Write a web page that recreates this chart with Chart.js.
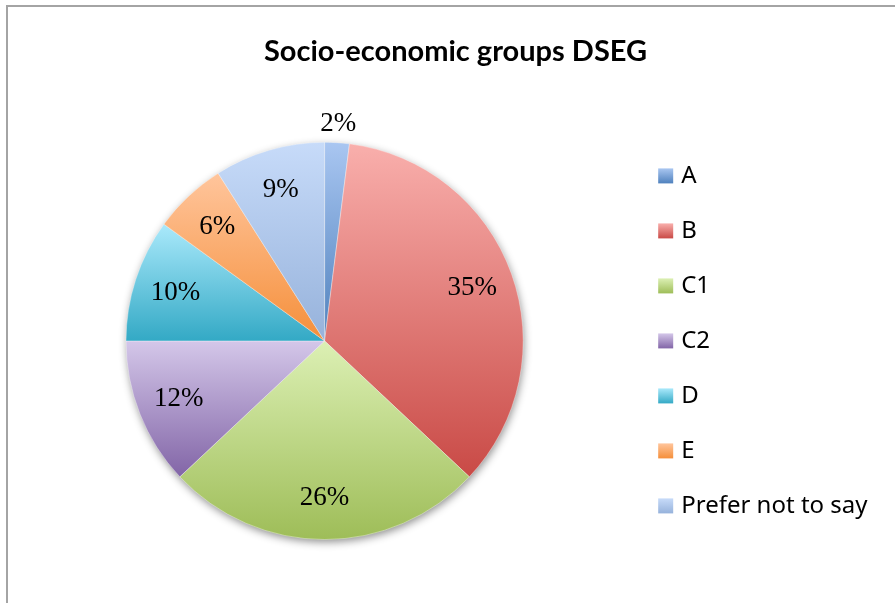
<!DOCTYPE html>
<html>
<head>
<meta charset="utf-8">
<script src="https://cdn.jsdelivr.net/npm/chart.js@4"></script>
<style>
  html, body { margin: 0; padding: 0; background: #fff; }
  #wrap { position: relative; width: 895px; height: 603px; overflow: hidden; }
  #frame { position: absolute; left: 6px; top: 5px; width: 2000px; height: 2000px;
           border-left: 2px solid #a4a4a4; border-top: 2px solid #a4a4a4; }
  canvas { position: absolute; left: 0; top: 0; }
</style>
</head>
<body>
<div id="wrap">
  <div id="frame"></div>
  <canvas id="c" width="895" height="603"></canvas>
</div>
<script>
// Socio-economic group shares (percent)
const categories = ['A', 'B', 'C1', 'C2', 'D', 'E', 'Prefer not to say'];
const shares = [2, 35, 26, 12, 10, 6, 9];

// Vertical gradient stops per slice: light top, deeper bottom
const lightColors = ['#a9c6f1', '#f9afac', '#dcf0b4', '#d4c7e9', '#aae9fb', '#ffc59c', '#c7dbf9'];
const deepColors  = ['#4f81bd', '#c94a46', '#9ebd58', '#8265a7', '#33a9c5', '#f58f3a', '#96b2db'];
const midColors   = ['#7ea3d8', '#e27d7a', '#bed886', '#ab96c8', '#6fcae0', '#fbaa6b', '#afc7ea'];

// legend geometry: reserved swatch slot width and label font size
const LEGEND_SLOT = 45.5;
const LEGEND_FONT = 24;

function vGradient(ctx, y0, y1, i) {
  const g = ctx.createLinearGradient(0, y0, 0, y1);
  g.addColorStop(0, lightColors[i]);
  g.addColorStop(1, deepColors[i]);
  return g;
}

// y-extent of a pie slice (canvas angles, clockwise from +x)
function sliceYRange(el) {
  const {y, startAngle, endAngle, outerRadius} = el.getProps(['y', 'startAngle', 'endAngle', 'outerRadius'], true);
  const ys = [y, y + outerRadius * Math.sin(startAngle), y + outerRadius * Math.sin(endAngle)];
  for (const a of [-Math.PI / 2, Math.PI / 2, 1.5 * Math.PI, 2.5 * Math.PI]) {
    if (a > startAngle && a < endAngle) ys.push(y + outerRadius * Math.sin(a));
  }
  return [Math.min(...ys), Math.max(...ys)];
}

const slicePaint = {
  id: 'slicePaint',
  beforeDatasetsDraw(chart) {
    const ctx = chart.ctx;
    const meta = chart.getDatasetMeta(0);
    const first = meta.data[0];
    if (!first) return;
    // soft drop shadow under the whole pie
    ctx.save();
    ctx.shadowColor = 'rgba(0,0,0,0.45)';
    ctx.shadowBlur = 9;
    ctx.shadowOffsetX = 1;
    ctx.shadowOffsetY = 3;
    ctx.fillStyle = '#cccccc';
    ctx.beginPath();
    ctx.arc(first.x, first.y, first.outerRadius - 0.5, 0, Math.PI * 2);
    ctx.fill();
    ctx.restore();
    meta.data.forEach((el, i) => {
      const [y0, y1] = sliceYRange(el);
      el.options.backgroundColor = vGradient(ctx, y0, y1, i);
    });
  },
  afterDatasetsDraw(chart) {
    const ctx = chart.ctx;
    const meta = chart.getDatasetMeta(0);
    ctx.save();
    ctx.font = '27px "Liberation Serif", serif';
    ctx.fillStyle = '#000';
    ctx.textAlign = 'center';
    ctx.textBaseline = 'middle';
    meta.data.forEach((el, i) => {
      const v = chart.data.datasets[0].data[i];
      const mid = (el.startAngle + el.endAngle) / 2;
      const r = v < 5 ? el.outerRadius + 19 : el.outerRadius * 0.79;
      ctx.fillText(v + '%', el.x + r * Math.cos(mid), el.y + r * Math.sin(mid));
    });
    ctx.restore();
  },
  afterDraw(chart) {
    // gradient legend swatches, sitting just left of each label
    const legend = chart.legend;
    if (!legend || !legend.legendHitBoxes) return;
    const ctx = chart.ctx;
    legend.legendHitBoxes.forEach((hb, i) => {
      const left = hb.left + LEGEND_SLOT + LEGEND_FONT / 2 - 23;
      const top = hb.top + hb.height / 2 - 7.5;
      ctx.fillStyle = vGradient(ctx, top, top + 15, i);
      ctx.fillRect(left, top, 15, 15);
    });
  }
};

new Chart(document.getElementById('c'), {
  type: 'pie',
  data: {
    labels: categories,
    datasets: [{
      data: shares,
      backgroundColor: midColors,
      borderColor: 'rgba(255,255,255,0.35)',
      borderWidth: 1
    }]
  },
  options: {
    responsive: false,
    animation: false,
    layout: { padding: { left: 33.5, right: 17.5, top: 0, bottom: 63 } },
    plugins: {
      title: {
        display: true,
        text: 'Socio-economic groups DSEG',
        color: '#000',
        font: { family: 'Lato', size: 29, weight: 'bold' },
        padding: { top: 34, bottom: 73 }
      },
      legend: {
        position: 'right',
        fullSize: false,
        labels: {
          color: '#000',
          font: { family: 'Noto Sans', size: LEGEND_FONT },
          boxWidth: LEGEND_SLOT,
          boxHeight: 47,
          padding: 8,
          generateLabels(chart) {
            return chart.data.labels.map((t, i) => ({
              text: t,
              fillStyle: 'rgba(0,0,0,0)',
              strokeStyle: 'rgba(0,0,0,0)',
              lineWidth: 0,
              index: i,
              hidden: false
            }));
          }
        }
      },
      tooltip: { enabled: false }
    }
  },
  plugins: [slicePaint]
});
</script>
</body>
</html>
